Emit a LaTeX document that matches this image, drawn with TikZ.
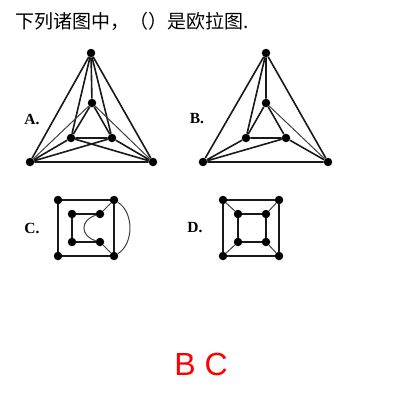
\documentclass[tikz,border=0pt]{standalone}
\usepackage{fontspec}
\setmainfont{Liberation Serif}
\newfontfamily\cjk{Noto Sans CJK SC}
\newfontfamily\ans{Liberation Sans}
\begin{document}
\begin{tikzpicture}[x=1pt,y=-1pt,
  vtx/.style={circle,fill=black,inner sep=0pt,minimum size=8.5pt},
  edge/.style={line width=1.6pt,black!90},
  thin/.style={line width=1.0pt,black!75},
  lbl/.style={font=\fontsize{15.5}{15.5}\selectfont\bfseries,anchor=center}]
\useasboundingbox (0,0) rectangle (400,400);
\fill[white] (0,0) rectangle (400,400);
\node[anchor=base west,inner sep=0pt,font=\cjk\fontsize{19}{19}\selectfont] (title) at (15,28) {下列诸图中，（）是欧拉图.};
% A
\node[lbl] (la) at (32,119) {A.};
\node[vtx] (at) at (91,53) {};
\node[vtx] (ai) at (92,103) {};
\node[vtx] (al) at (71,138) {};
\node[vtx] (ar) at (112,138) {};
\node[vtx] (aL) at (30,162) {};
\node[vtx] (aR) at (153,162) {};
\draw[edge] (at)--(aL)--(aR)--(at);
\draw[edge] (ai)--(al)--(ar)--(ai);
\draw[edge] (at)--(ai) (at)--(al) (at)--(ar);
\draw[edge] (aL)--(al) (aL)--(ar) (aR)--(ar) (aR)--(al);
\draw[thin] (aL)--(ai) (aR)--(ai);
% B
\node[lbl] (lb) at (197,119) {B.};
\node[vtx] (bt) at (266,53) {};
\node[vtx] (bi) at (266,103) {};
\node[vtx] (bl) at (246,138) {};
\node[vtx] (br) at (286,138) {};
\node[vtx] (bL) at (203,162) {};
\node[vtx] (bR) at (328,162) {};
\draw[edge] (bt)--(bL)--(bR)--(bt);
\draw[edge] (bi)--(bl)--(br)--(bi);
\draw[edge] (bt)--(bi) (bt)--(bl);
\draw[edge] (bL)--(bl) (bL)--(br) (bR)--(br);
\draw[thin] (bi)--(bR);
% C
\node[lbl] (lc) at (32,228) {C.};
\node[vtx] (c1) at (58,200) {};
\node[vtx] (c2) at (114,200) {};
\node[vtx] (c3) at (114,256) {};
\node[vtx] (c4) at (58,256) {};
\node[vtx] (c5) at (72,214) {};
\node[vtx] (c6) at (100,214) {};
\node[vtx] (c7) at (100,242) {};
\node[vtx] (c8) at (72,242) {};
\draw[edge] (c1)--(c2)--(c3)--(c4)--(c1);
\draw[edge] (c6)--(c5)--(c8)--(c7);
\draw[thin] (c2)--(c6) (c3)--(c7);
\draw[thin] (c6) .. controls (80,220) and (80,236) .. (c7);
\draw[thin] (c2) .. controls (134,212) and (134,244) .. (c3);
% D
\node[lbl] (ld) at (195,228) {D.};
\node[vtx] (d1) at (223,200) {};
\node[vtx] (d2) at (279,200) {};
\node[vtx] (d3) at (279,256) {};
\node[vtx] (d4) at (223,256) {};
\node[vtx] (d5) at (238,214) {};
\node[vtx] (d6) at (266,214) {};
\node[vtx] (d7) at (266,242) {};
\node[vtx] (d8) at (238,242) {};
\draw[edge] (d1)--(d2)--(d3)--(d4)--(d1);
\draw[edge] (d5)--(d6)--(d7)--(d8)--(d5);
\draw[thin] (d1)--(d5) (d2)--(d6) (d3)--(d7) (d4)--(d8);
% answer
\node[anchor=base,inner sep=0pt,text=red,font=\ans\fontsize{32}{32}\selectfont] (answer) at (201,375) {B C};
\end{tikzpicture}
\end{document}
